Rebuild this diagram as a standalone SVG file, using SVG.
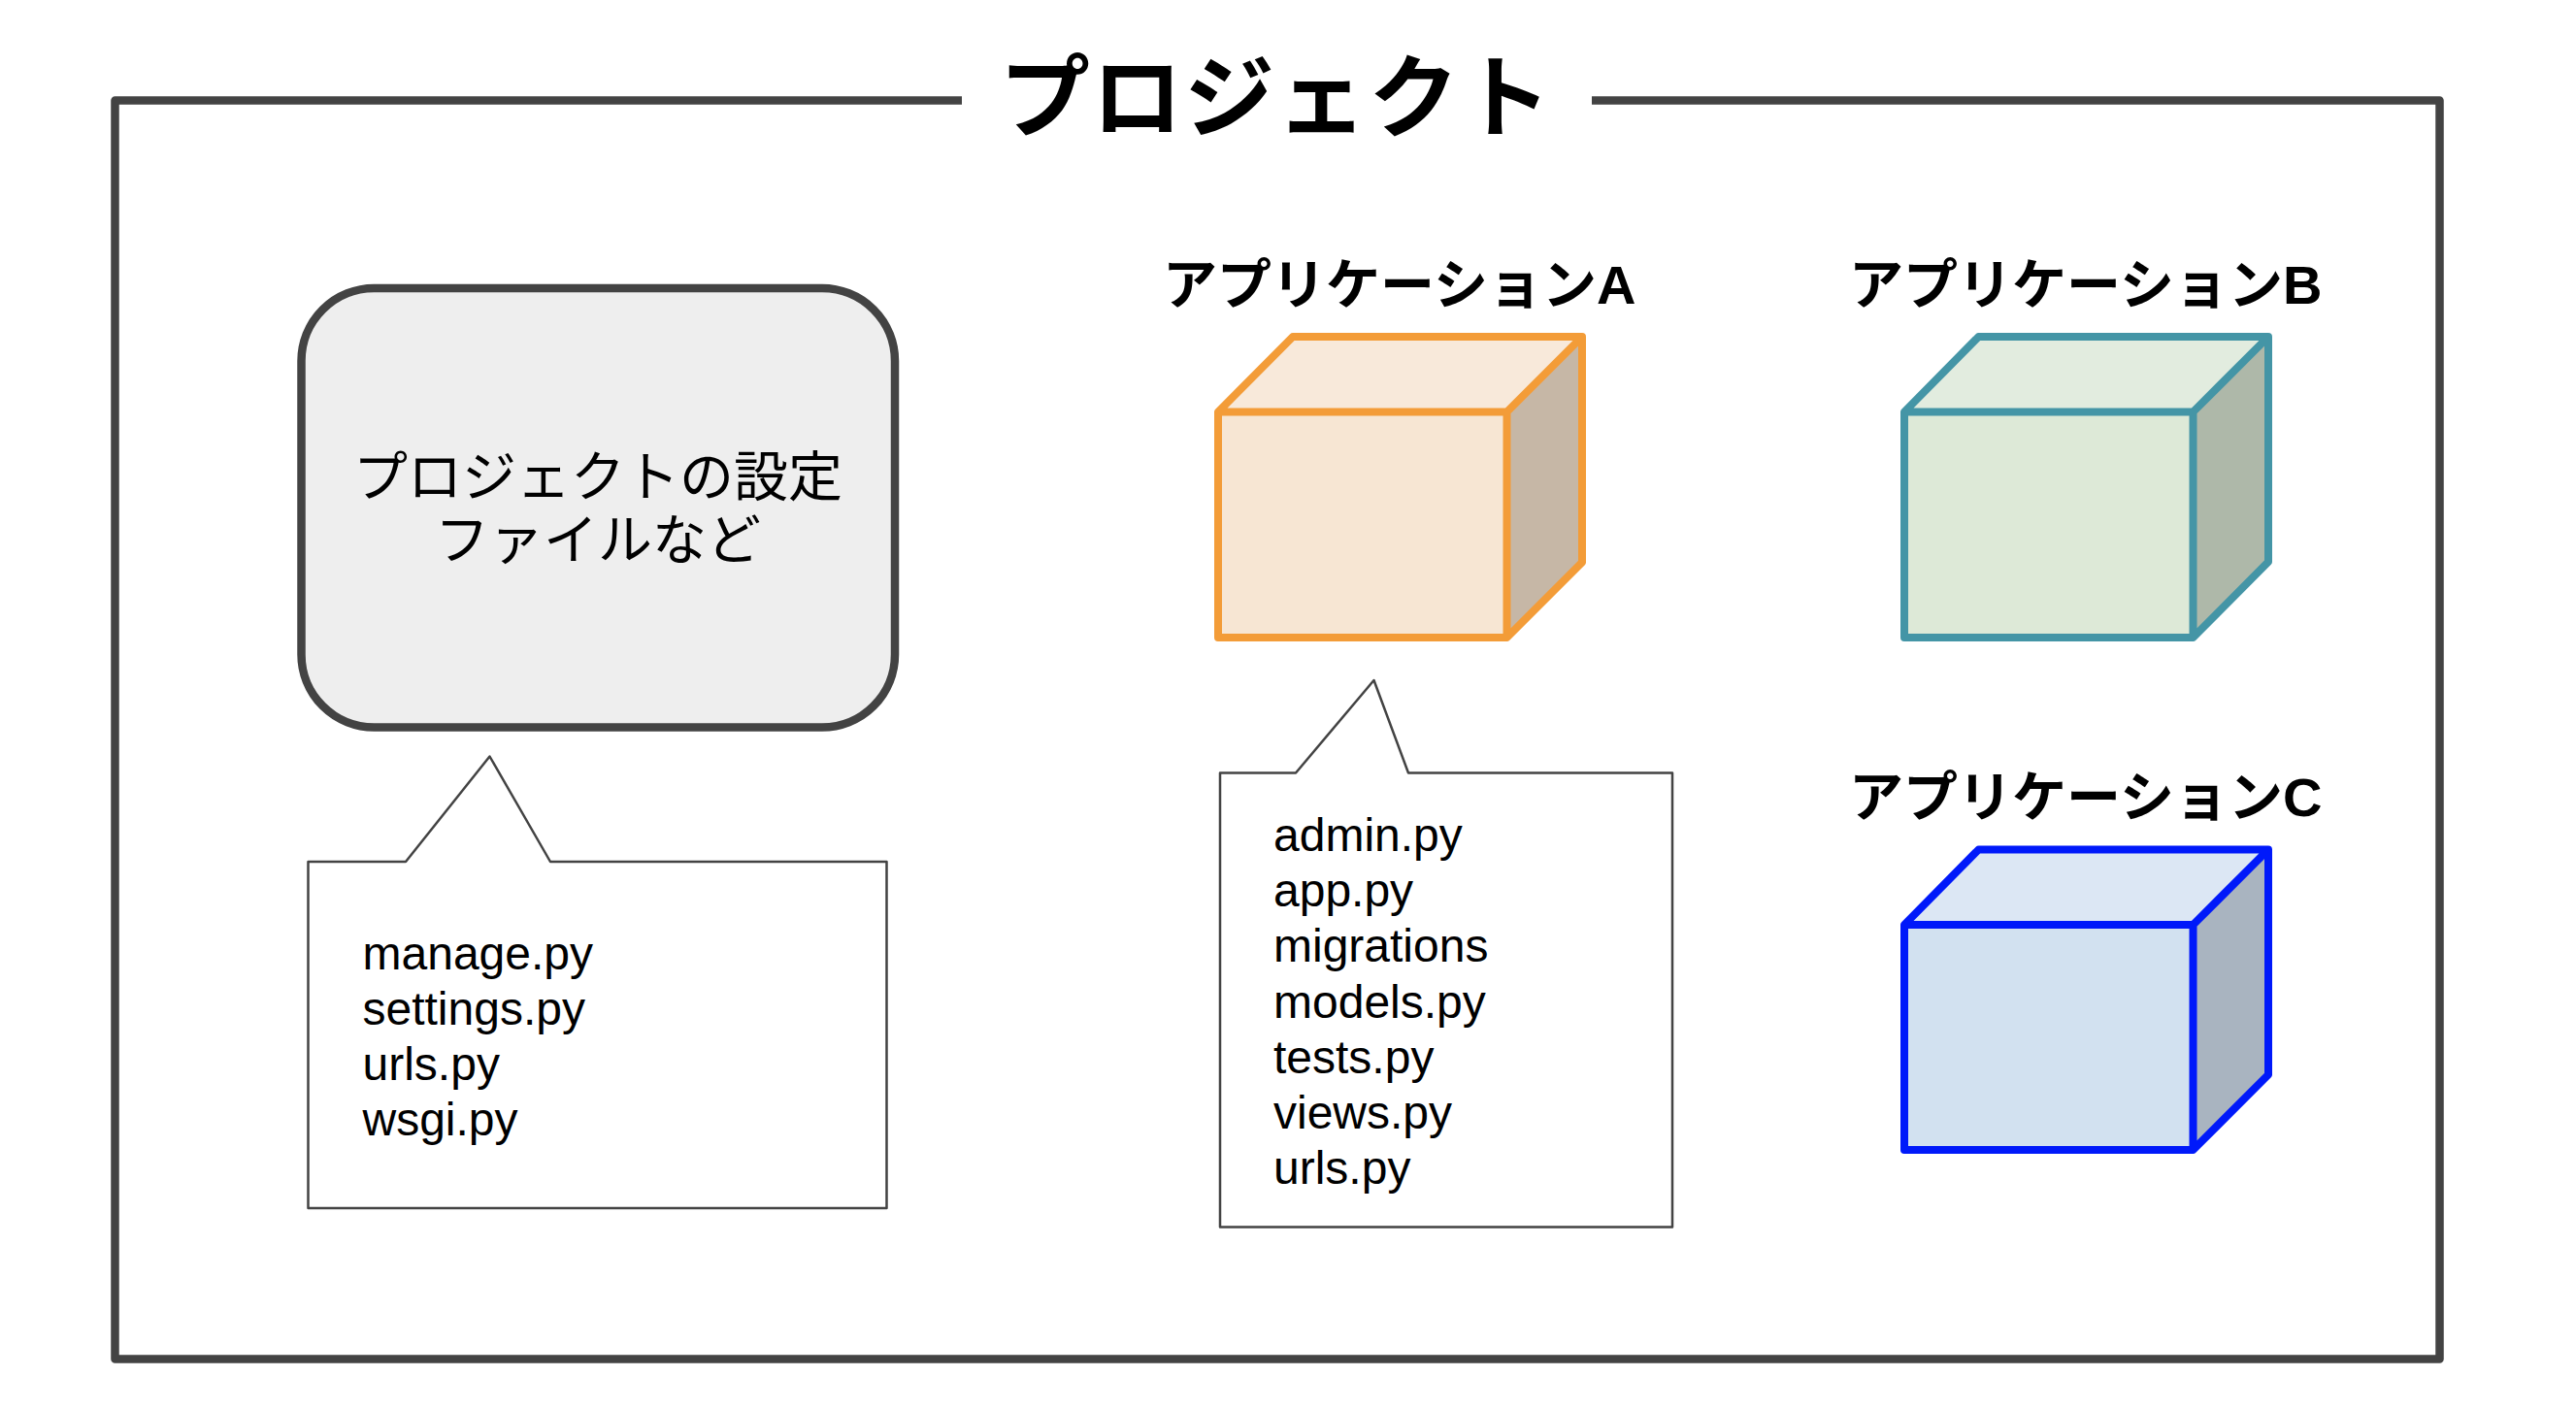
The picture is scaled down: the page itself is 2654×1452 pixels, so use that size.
<svg xmlns="http://www.w3.org/2000/svg" width="2654" height="1452" viewBox="0 0 2654 1452">
<style>
text{font-family:"Liberation Sans","Noto Sans CJK JP",sans-serif;fill:#000}
.h{font-size:56px;font-weight:700}
.t{font-size:56px;font-weight:400;text-anchor:middle}
.m{font-size:48px}
.f{fill:none;stroke-width:8;stroke-linejoin:round}
.c{fill:#fff;stroke:#434343;stroke-width:2.5;stroke-linejoin:round}
.a .f{stroke:#f39c38}.b .f{stroke:#4495a6}.d .f{stroke:#0019fa}
</style>
<rect width="2654" height="1452" fill="#fff"/>
<g id="frame"><path d="M991 103.500H118.500V1400.500H2513.500V103.500H1640" fill="none" stroke="#434343" stroke-width="8.500" stroke-linejoin="round"/>
<text x="1315" y="134" style="font-size:93px;font-weight:700;letter-spacing:2px;text-anchor:middle">プロジェクト</text></g>
<g id="settings"><rect x="310.500" y="297" width="611.500" height="452.500" rx="75" ry="75" fill="#eee" stroke="#434343" stroke-width="8.500"/>
<text class="t" x="616" y="510.500">プロジェクトの設定</text><text class="t" x="616" y="575.500">ファイルなど</text></g>
<g id="note-project"><path class="c" d="M317.500 888H418L504.500 779.500 567 888H913.500V1245H317.500Z"/>
<text class="m" x="373.500" y="999">manage.py</text><text class="m" x="373.500" y="1056">settings.py</text><text class="m" x="373.500" y="1113">urls.py</text><text class="m" x="373.500" y="1170">wsgi.py</text></g>
<g id="app-a" class="a"><text class="h" x="1198" y="313">アプリケーションA</text>
<path d="M1255 424.500L1332 347H1630L1552.500 424.500Z" fill="#f8e9da"/><path d="M1552.500 424.500L1630 347V579.500L1552.500 657Z" fill="#c6b7a6"/><rect x="1255" y="424.500" width="297.500" height="232.500" fill="#f7e6d3"/>
<path class="f" d="M1255 424.500L1332 347H1630V579.500L1552.500 657H1255ZM1255 424.500H1552.500V657M1552.500 424.500L1630 347"/></g>
<g id="note-a"><path class="c" d="M1257 796.500H1335L1415.500 701 1451 796.500H1723V1264.500H1257Z"/>
<text class="m" x="1312" y="877">admin.py</text><text class="m" x="1312" y="934">app.py</text><text class="m" x="1312" y="991">migrations</text><text class="m" x="1312" y="1048.500">models.py</text><text class="m" x="1312" y="1106">tests.py</text><text class="m" x="1312" y="1163">views.py</text><text class="m" x="1312" y="1220">urls.py</text></g>
<g id="app-b" class="b"><text class="h" x="1905" y="313">アプリケーションB</text>
<path d="M1962 424.500L2038.500 347H2337L2259.500 424.500Z" fill="#e2ecdf"/><path d="M2259.500 424.500L2337 347V579L2259.500 657Z" fill="#aeb8a9"/><rect x="1962" y="424.500" width="297.500" height="232.500" fill="#dde9d7"/>
<path class="f" d="M1962 424.500L2038.500 347H2337V579L2259.500 657H1962ZM1962 424.500H2259.500V657M2259.500 424.500L2337 347"/></g>
<g id="app-c" class="d"><text class="h" x="1905" y="841">アプリケーションC</text>
<path d="M1962 953L2038.500 875.500H2337L2259.500 953Z" fill="#dce7f4"/><path d="M2259.500 953L2337 875.500V1107.500L2259.500 1185Z" fill="#a9b4c0"/><rect x="1962" y="953" width="297.500" height="232" fill="#d2e1f0"/>
<path class="f" d="M1962 953L2038.500 875.500H2337V1107.500L2259.500 1185H1962ZM1962 953H2259.500V1185M2259.500 953L2337 875.500"/></g>
<g id="connectors"></g>
</svg>
